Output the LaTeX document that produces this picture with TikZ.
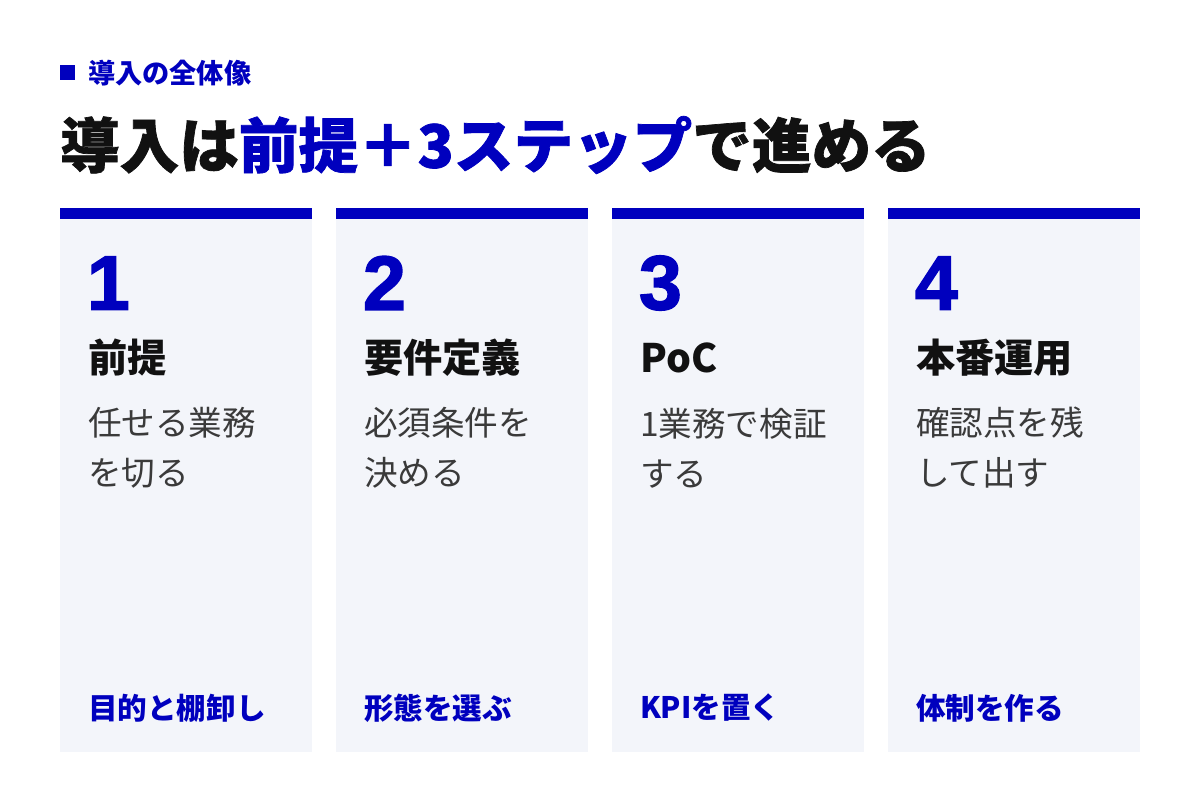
\documentclass[tikz,border=0pt]{standalone}
\usepackage{fontspec}
\setmainfont{Noto Sans CJK JP}
\newfontfamily\heavyfont{Noto Sans CJK JP}[BoldFeatures={FakeBold=1.2}]
\newfontfamily\digitfont{Liberation Sans}[BoldFeatures={FakeBold=2}]
\definecolor{stepblue}{RGB}{0,0,190}
\definecolor{cardbg}{RGB}{243,245,250}
\definecolor{inkblack}{RGB}{17,17,17}
\definecolor{descgray}{RGB}{58,58,58}

\begin{document}
\begin{tikzpicture}[x=0.5pt,y=-0.5pt,
        every node/.style={anchor=west,inner sep=0pt,outer sep=0pt},
        card/.style={fill=cardbg},
        cardbar/.style={fill=stepblue},
        kicker/.style={text=stepblue,font=\fontsize{13.6pt}{15pt}\bfseries},
        title/.style={text=inkblack,font=\heavyfont\fontsize{29.8pt}{34pt}\bfseries},
        num/.style={text=stepblue,font=\digitfont\fontsize{38.5pt}{40pt}\bfseries},
        head/.style={text=inkblack,font=\fontsize{19.6pt}{22pt}\bfseries},
        desc/.style={text=descgray,align=left,font=\fontsize{16.8pt}{25pt}\selectfont},
        foot/.style={text=stepblue,font=\fontsize{14.8pt}{16pt}\bfseries}]
    \useasboundingbox[fill=white] (0,0) rectangle (1200,800);

    % header
    \node[fill=stepblue,minimum size=7.5pt] (mark) at (60,72) {};
    \node[kicker] (sub) at (88,73) {導入の全体像};
    \node[title] (head) at (60,145) {導入は\textcolor{stepblue}{前提＋3ステップ}で進める};

    % cards
    \foreach \i/\hd/\da/\db/\ft in {1/前提/任せる業務/を切る/目的と棚卸し,
                                    2/要件定義/必須条件を/決める/形態を選ぶ,
                                    3/PoC/1業務で検証/する/KPIを置く,
                                    4/本番運用/確認点を残/して出す/体制を作る}{
        \pgfmathsetmacro\cx{60+(\i-1)*276}
        \fill[card] (\cx,219) rectangle ++(252,533);
        \fill[cardbar] (\cx,208) rectangle ++(252,11);
        \node[num] (num\i) at (\cx+27,283) {\i};
        \node[head] (head\i) at (\cx+28,358) {\hd};
        \node[desc] (desc\i) at (\cx+28,448) {\da\\\db};
        \node[foot] (foot\i) at (\cx+28,708) {\ft};
    }
\end{tikzpicture}
\end{document}
